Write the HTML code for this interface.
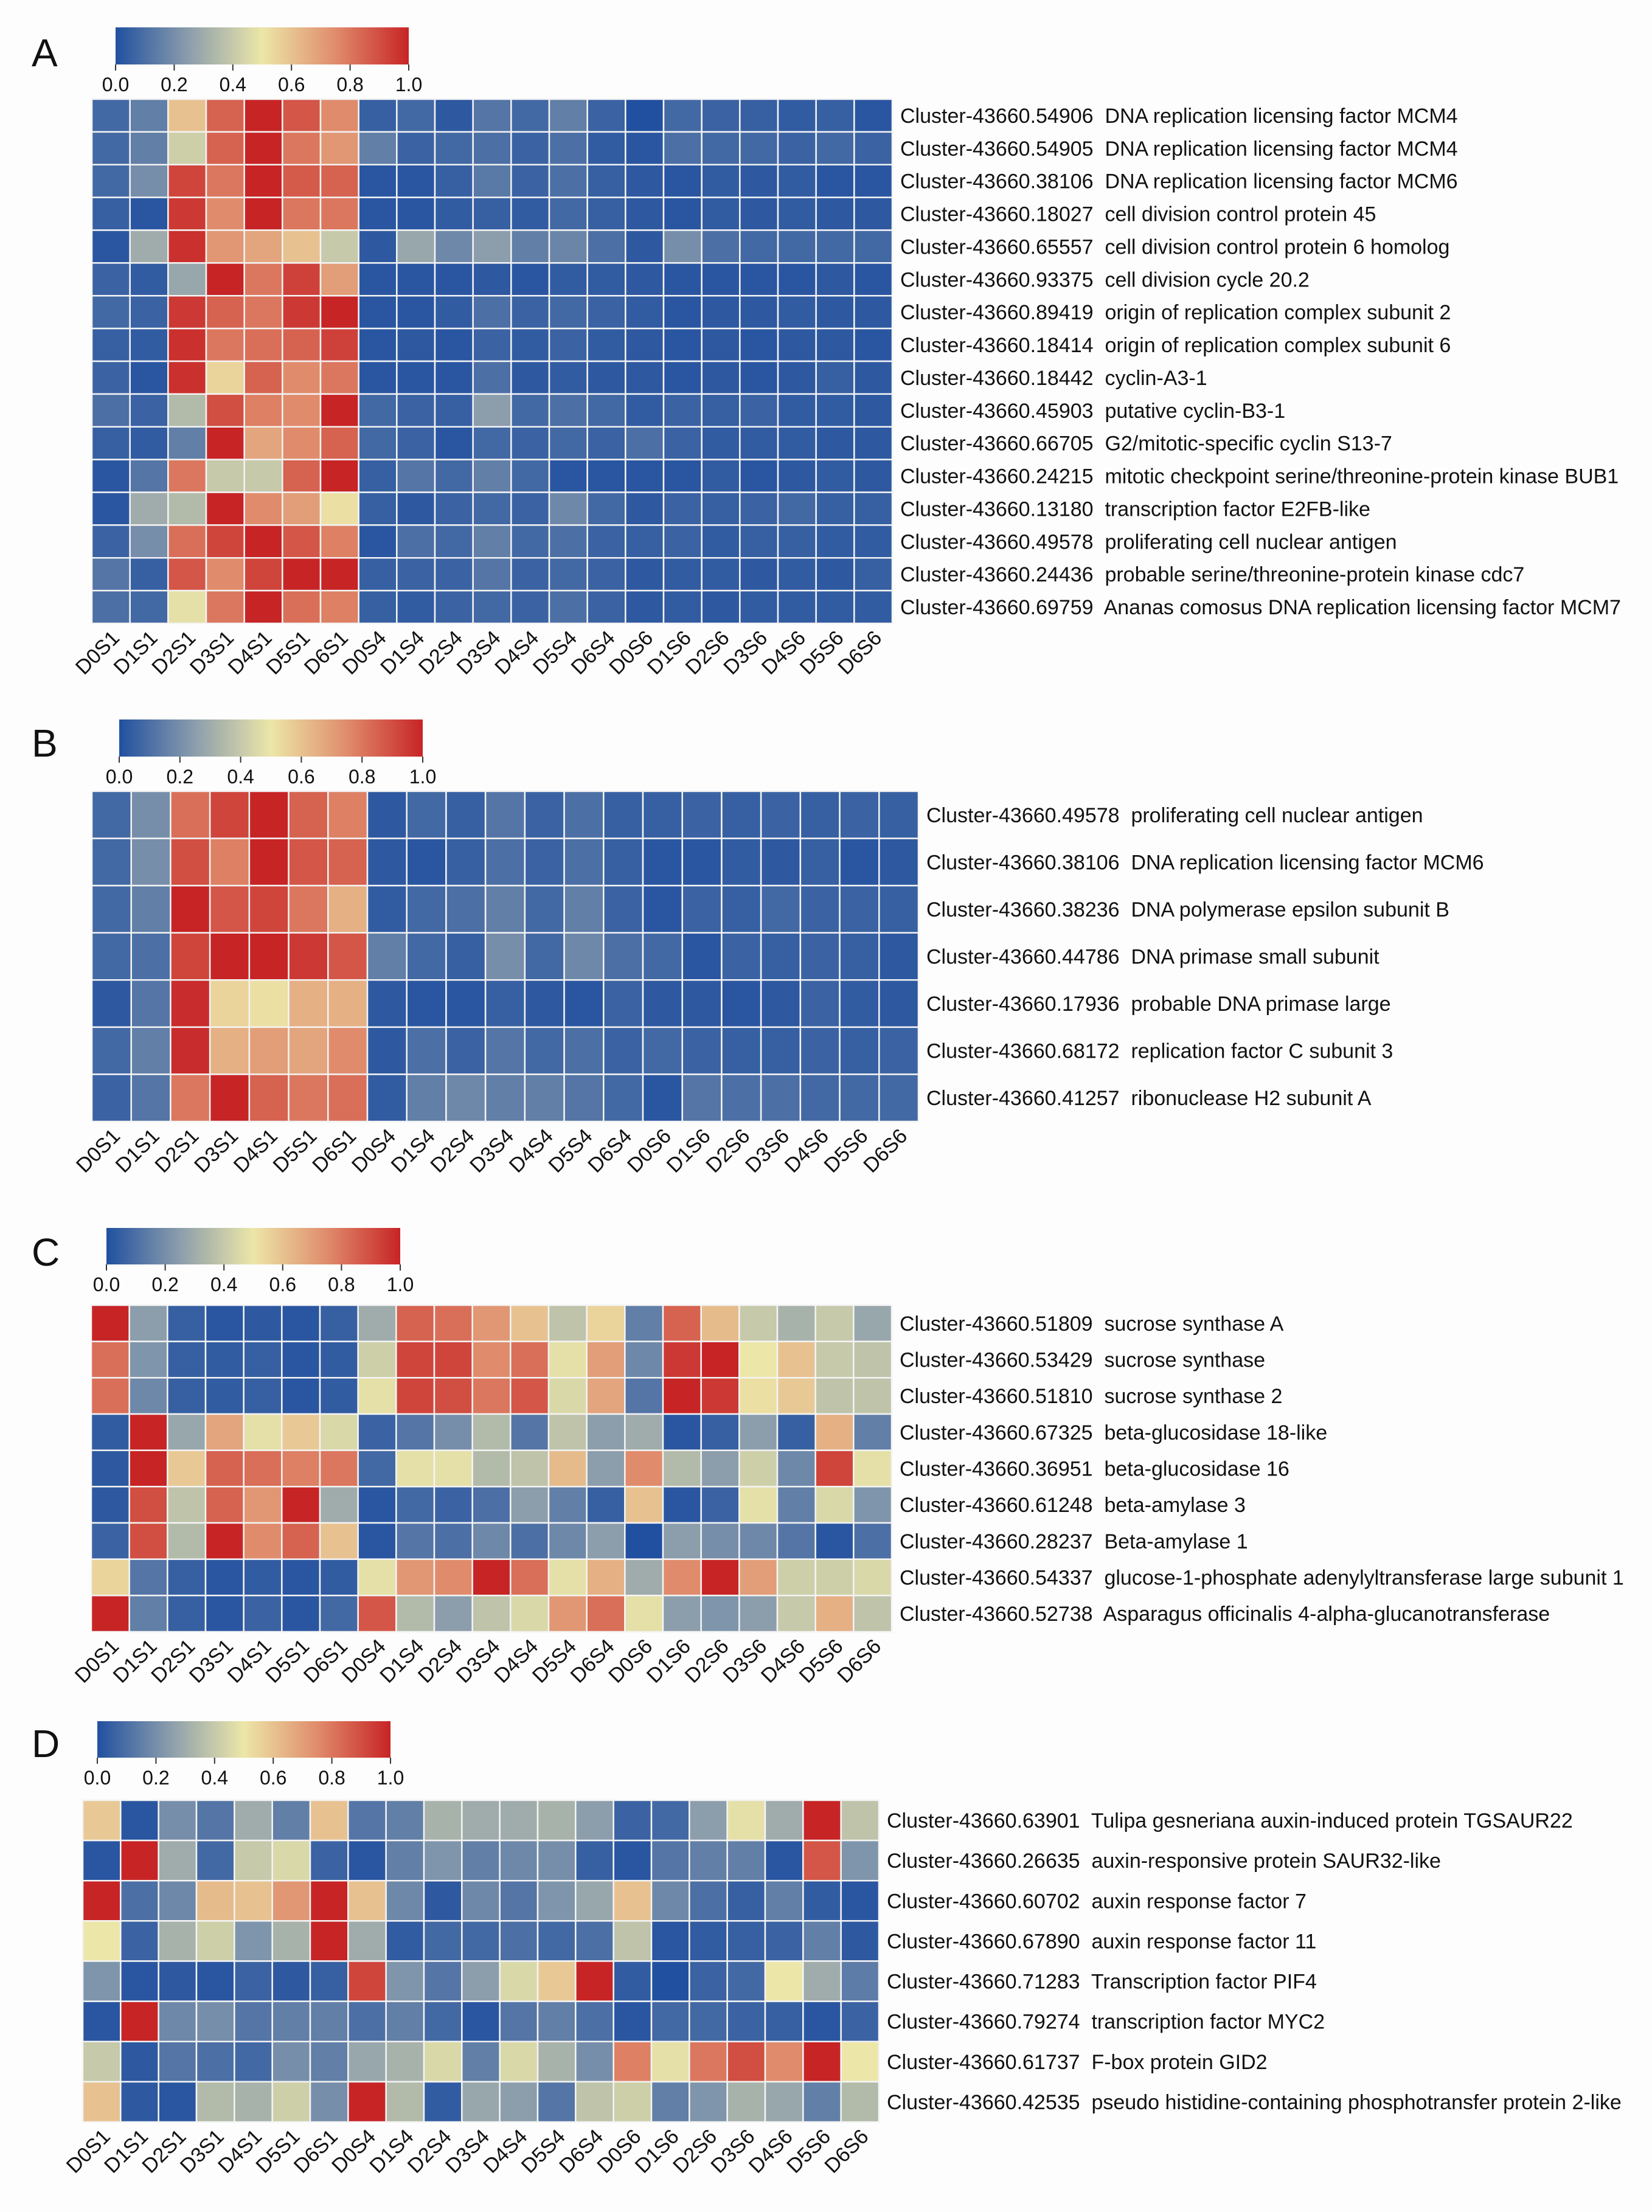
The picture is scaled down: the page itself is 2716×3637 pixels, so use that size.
<!DOCTYPE html>
<html><head><meta charset="utf-8"><style>
html,body{margin:0;padding:0;background:#fdfdfd;}
svg{display:block;font-family:"Liberation Sans",Arial,sans-serif;}
text{white-space:pre;fill:#111;}
</style></head><body>
<svg id="fig" width="2716" height="3637" viewBox="0 0 2716 3637" xmlns="http://www.w3.org/2000/svg">
<rect x="0" y="0" width="2716" height="3637" fill="#fdfdfd"/>
</svg>
<script>
const sampleLabels = ["D0S1","D1S1","D2S1","D3S1","D4S1","D5S1","D6S1","D0S4","D1S4","D2S4","D3S4","D4S4","D5S4","D6S4","D0S6","D1S6","D2S6","D3S6","D4S6","D5S6","D6S6"];
const colorbarTicks = [0.0,0.2,0.4,0.6,0.8,1.0];
const colorbarTickLabels = ["0.0","0.2","0.4","0.6","0.8","1.0"];

const geneLabelsA = [
"Cluster-43660.54906  DNA replication licensing factor MCM4",
"Cluster-43660.54905  DNA replication licensing factor MCM4",
"Cluster-43660.38106  DNA replication licensing factor MCM6",
"Cluster-43660.18027  cell division control protein 45",
"Cluster-43660.65557  cell division control protein 6 homolog",
"Cluster-43660.93375  cell division cycle 20.2",
"Cluster-43660.89419  origin of replication complex subunit 2",
"Cluster-43660.18414  origin of replication complex subunit 6",
"Cluster-43660.18442  cyclin-A3-1",
"Cluster-43660.45903  putative cyclin-B3-1",
"Cluster-43660.66705  G2/mitotic-specific cyclin S13-7",
"Cluster-43660.24215  mitotic checkpoint serine/threonine-protein kinase BUB1",
"Cluster-43660.13180  transcription factor E2FB-like",
"Cluster-43660.49578  proliferating cell nuclear antigen",
"Cluster-43660.24436  probable serine/threonine-protein kinase cdc7",
"Cluster-43660.69759  Ananas comosus DNA replication licensing factor MCM7"];
const valuesA = [
[.08,.15,.6,.85,1,.88,.75,.05,.08,.03,.12,.08,.15,.06,.0,.08,.06,.05,.04,.05,.02],
[.08,.15,.42,.85,1,.8,.72,.15,.06,.08,.1,.06,.1,.04,.02,.1,.08,.08,.06,.08,.06],
[.08,.2,.92,.8,1,.87,.85,.02,.02,.05,.13,.06,.1,.05,.03,.02,.04,.03,.04,.02,.02],
[.05,.02,.95,.75,1,.8,.8,.02,.02,.04,.05,.04,.08,.05,.03,.02,.04,.03,.04,.03,.03],
[.02,.3,.97,.72,.68,.6,.4,.03,.28,.18,.25,.15,.17,.1,.03,.2,.1,.08,.08,.08,.08],
[.06,.04,.28,1,.8,.93,.7,.02,.02,.02,.03,.02,.04,.04,.03,.02,.02,.02,.02,.03,.02],
[.08,.06,.95,.85,.8,.95,1,.02,.02,.04,.1,.06,.08,.06,.04,.02,.03,.03,.04,.03,.03],
[.05,.04,.97,.8,.82,.85,.93,.02,.03,.02,.06,.04,.06,.04,.03,.02,.03,.02,.03,.03,.02],
[.06,.02,.97,.55,.85,.75,.8,.02,.02,.02,.1,.03,.04,.03,.03,.02,.03,.02,.03,.05,.03],
[.1,.06,.35,.9,.78,.75,1,.08,.06,.05,.25,.08,.1,.08,.04,.06,.05,.06,.04,.04,.03],
[.05,.04,.15,1,.68,.75,.85,.08,.06,.02,.08,.06,.08,.06,.1,.06,.04,.04,.04,.03,.03],
[.02,.12,.8,.4,.4,.85,1,.05,.12,.08,.15,.08,.02,.02,.02,.02,.04,.02,.03,.04,.03],
[.02,.3,.35,1,.75,.7,.52,.05,.03,.06,.08,.06,.18,.08,.03,.06,.05,.06,.08,.05,.05],
[.06,.2,.82,.92,1,.88,.78,.02,.1,.08,.15,.08,.1,.06,.05,.06,.04,.05,.05,.04,.04],
[.12,.05,.88,.75,.92,1,1,.05,.06,.06,.12,.06,.08,.06,.03,.04,.04,.03,.04,.03,.05],
[.1,.08,.48,.8,1,.82,.78,.05,.04,.06,.08,.06,.1,.06,.03,.04,.03,.04,.04,.04,.04]];

const geneLabelsB = [
"Cluster-43660.49578  proliferating cell nuclear antigen",
"Cluster-43660.38106  DNA replication licensing factor MCM6",
"Cluster-43660.38236  DNA polymerase epsilon subunit B",
"Cluster-43660.44786  DNA primase small subunit",
"Cluster-43660.17936  probable DNA primase large",
"Cluster-43660.68172  replication factor C subunit 3",
"Cluster-43660.41257  ribonuclease H2 subunit A"];
const valuesB = [
[.08,.2,.82,.92,1,.85,.78,.03,.08,.05,.12,.06,.1,.05,.05,.06,.05,.06,.05,.06,.05],
[.08,.2,.9,.78,1,.88,.85,.03,.02,.05,.1,.06,.1,.05,.02,.02,.04,.03,.05,.02,.03],
[.08,.15,1,.88,.92,.8,.65,.04,.08,.1,.15,.08,.15,.06,.02,.06,.05,.08,.06,.06,.05],
[.08,.1,.92,1,1,.95,.88,.15,.08,.05,.2,.08,.18,.1,.08,.02,.06,.05,.06,.05,.03],
[.03,.12,.98,.55,.52,.65,.65,.03,.02,.02,.05,.03,.02,.06,.03,.03,.02,.03,.06,.04,.03],
[.08,.15,.98,.65,.7,.68,.75,.03,.1,.06,.12,.08,.1,.06,.08,.06,.05,.05,.06,.05,.06],
[.06,.12,.8,1,.85,.8,.82,.04,.15,.18,.15,.15,.12,.08,.02,.12,.1,.1,.08,.08,.08]];

const geneLabelsC = [
"Cluster-43660.51809  sucrose synthase A",
"Cluster-43660.53429  sucrose synthase",
"Cluster-43660.51810  sucrose synthase 2",
"Cluster-43660.67325  beta-glucosidase 18-like",
"Cluster-43660.36951  beta-glucosidase 16",
"Cluster-43660.61248  beta-amylase 3",
"Cluster-43660.28237  Beta-amylase 1",
"Cluster-43660.54337  glucose-1-phosphate adenylyltransferase large subunit 1",
"Cluster-43660.52738  Asparagus officinalis 4-alpha-glucanotransferase"];
const valuesC = [
[1,.25,.05,.02,.03,.02,.05,.3,.85,.82,.72,.6,.38,.55,.15,.85,.62,.4,.32,.4,.28],
[.82,.22,.05,.04,.05,.02,.04,.42,.92,.92,.75,.82,.48,.7,.18,.95,1,.5,.6,.4,.38],
[.82,.18,.05,.04,.05,.02,.04,.48,.92,.9,.8,.88,.45,.68,.12,1,.95,.52,.58,.38,.38],
[.04,1,.28,.68,.48,.58,.45,.06,.12,.2,.35,.12,.38,.25,.3,.02,.05,.25,.05,.65,.15],
[.03,1,.58,.85,.82,.78,.8,.08,.48,.48,.35,.38,.62,.25,.75,.35,.25,.42,.18,.92,.48],
[.03,.9,.38,.85,.72,1,.3,.02,.08,.06,.1,.25,.15,.05,.6,.02,.06,.48,.15,.45,.22],
[.06,.9,.35,1,.75,.85,.6,.02,.12,.1,.18,.1,.18,.25,.0,.25,.2,.18,.12,.02,.1],
[.55,.12,.05,.02,.04,.02,.04,.48,.72,.75,1,.82,.48,.65,.3,.75,1,.7,.42,.42,.45],
[1,.15,.05,.02,.06,.02,.08,.88,.35,.25,.38,.45,.72,.82,.48,.25,.22,.25,.4,.65,.38]];

const geneLabelsD = [
"Cluster-43660.63901  Tulipa gesneriana auxin-induced protein TGSAUR22",
"Cluster-43660.26635  auxin-responsive protein SAUR32-like",
"Cluster-43660.60702  auxin response factor 7",
"Cluster-43660.67890  auxin response factor 11",
"Cluster-43660.71283  Transcription factor PIF4",
"Cluster-43660.79274  transcription factor MYC2",
"Cluster-43660.61737  F-box protein GID2",
"Cluster-43660.42535  pseudo histidine-containing phosphotransfer protein 2-like"];
const valuesD = [
[.58,.02,.2,.12,.3,.15,.6,.12,.15,.32,.3,.3,.32,.25,.06,.08,.25,.48,.3,1,.38],
[.02,1,.3,.08,.4,.45,.06,.02,.15,.22,.15,.18,.2,.05,.02,.12,.15,.15,.02,.88,.22],
[1,.1,.18,.62,.6,.72,1,.6,.18,.03,.18,.12,.22,.28,.6,.18,.1,.05,.15,.04,.02],
[.5,.06,.32,.42,.22,.32,1,.3,.04,.08,.08,.1,.08,.1,.38,.02,.04,.05,.06,.15,.03],
[.22,.02,.03,.02,.06,.03,.05,.92,.22,.12,.25,.45,.58,1,.04,.0,.06,.08,.5,.3,.14],
[.02,1,.18,.2,.12,.15,.15,.1,.15,.08,.02,.12,.15,.1,.02,.08,.08,.06,.05,.02,.06],
[.4,.03,.12,.1,.08,.2,.15,.28,.32,.45,.15,.45,.32,.2,.78,.48,.8,.9,.75,1,.5],
[.6,.03,.02,.35,.32,.42,.2,1,.35,.04,.28,.25,.12,.38,.42,.15,.22,.32,.28,.15,.35]];

const NS = "http://www.w3.org/2000/svg";
const svg = document.getElementById("fig");
const stops = [[0,[33,80,160]],[0.25,[140,158,172]],[0.5,[236,230,168]],[0.75,[224,140,108]],[1,[199,36,38]]];
function colorOf(v){
  v = Math.max(0, Math.min(1, v));
  for (let i=0;i<stops.length-1;i++){
    const a=stops[i], b=stops[i+1];
    if (v<=b[0]){
      const t=(v-a[0])/(b[0]-a[0]);
      const c=a[1].map((x,k)=>Math.round(x+(b[1][k]-x)*t));
      return "rgb("+c.join(",")+")";
    }
  }
  return "rgb(199,36,38)";
}
function mk(tag, attrs, parent){
  const e=document.createElementNS(NS,tag);
  for (const k in attrs) e.setAttribute(k, attrs[k]);
  (parent||svg).appendChild(e);
  return e;
}
const panels = [
  {id:"a", letter:"A", values:valuesA, genes:geneLabelsA, gx:151, gy:163, gw:1316, gh:862, cbx:190, cby:45, cbw:482, cbh:61, ly:87},
  {id:"b", letter:"B", values:valuesB, genes:geneLabelsB, gx:151, gy:1301, gw:1359, gh:543, cbx:196, cby:1183, cbw:499, cbh:61, ly:1222},
  {id:"c", letter:"C", values:valuesC, genes:geneLabelsC, gx:150, gy:2146, gw:1316, gh:537, cbx:175, cby:2019, cbw:483, cbh:60, ly:2059},
  {id:"d", letter:"D", values:valuesD, genes:geneLabelsD, gx:136, gy:2960, gw:1309, gh:529, cbx:160, cby:2830, cbw:482, cbh:60, ly:2867}
];
const defs = mk("defs",{});
const grad = mk("linearGradient",{id:"cmap",x1:"0",y1:"0",x2:"1",y2:"0"},defs);
for (let i=0;i<=20;i++){ mk("stop",{offset:(i/20),"stop-color":colorOf(i/20)},grad); }

panels.forEach(p=>{
  const g = mk("g",{});
  
  
  const L = mk("text",{x:52,y:p.ly+22,"font-size":64},g);
  L.textContent = p.letter;
  
  
  const cb = mk("g",{},g);
  
  
  mk("rect",{x:p.cbx,y:p.cby,width:p.cbw,height:p.cbh,fill:"url(#cmap)"},cb);
  colorbarTicks.forEach((t,i)=>{
    const x = p.cbx + t*p.cbw;
    mk("line",{x1:x,y1:p.cby+p.cbh,x2:x,y2:p.cby+p.cbh+10,stroke:"#333","stroke-width":2},cb);
    const tl = mk("text",{x:x,y:p.cby+p.cbh+44,"font-size":32,"text-anchor":"middle"},cb);
    tl.textContent = colorbarTickLabels[i];
    
    
  });
  const nr = p.values.length, nc = sampleLabels.length;
  const cw = p.gw/nc, rh = p.gh/nr;
  const cells = mk("g",{},g);
  
  
  p.values.forEach((row,r)=>{
    row.forEach((v,c)=>{
      const cell = mk("rect",{x:p.gx+c*cw,y:p.gy+r*rh,width:cw,height:rh,fill:colorOf(v),stroke:"#f4f4f4","stroke-width":2.5},cells);
      
      
    });
    const t = mk("text",{x:p.gx+p.gw+13,y:p.gy+r*rh+rh/2+12,"font-size":34},g);
    t.textContent = p.genes[r];
    
    
  });
  sampleLabels.forEach((s,c)=>{
    const x = p.gx + c*cw + cw/2 + 16, y = p.gy + p.gh + 26;
    const t = mk("text",{x:x,y:y,"font-size":34,"text-anchor":"end",transform:"rotate(-45 "+x+" "+y+")"},g);
    t.textContent = s;
    
    
  });
});
</script>
</body></html>
